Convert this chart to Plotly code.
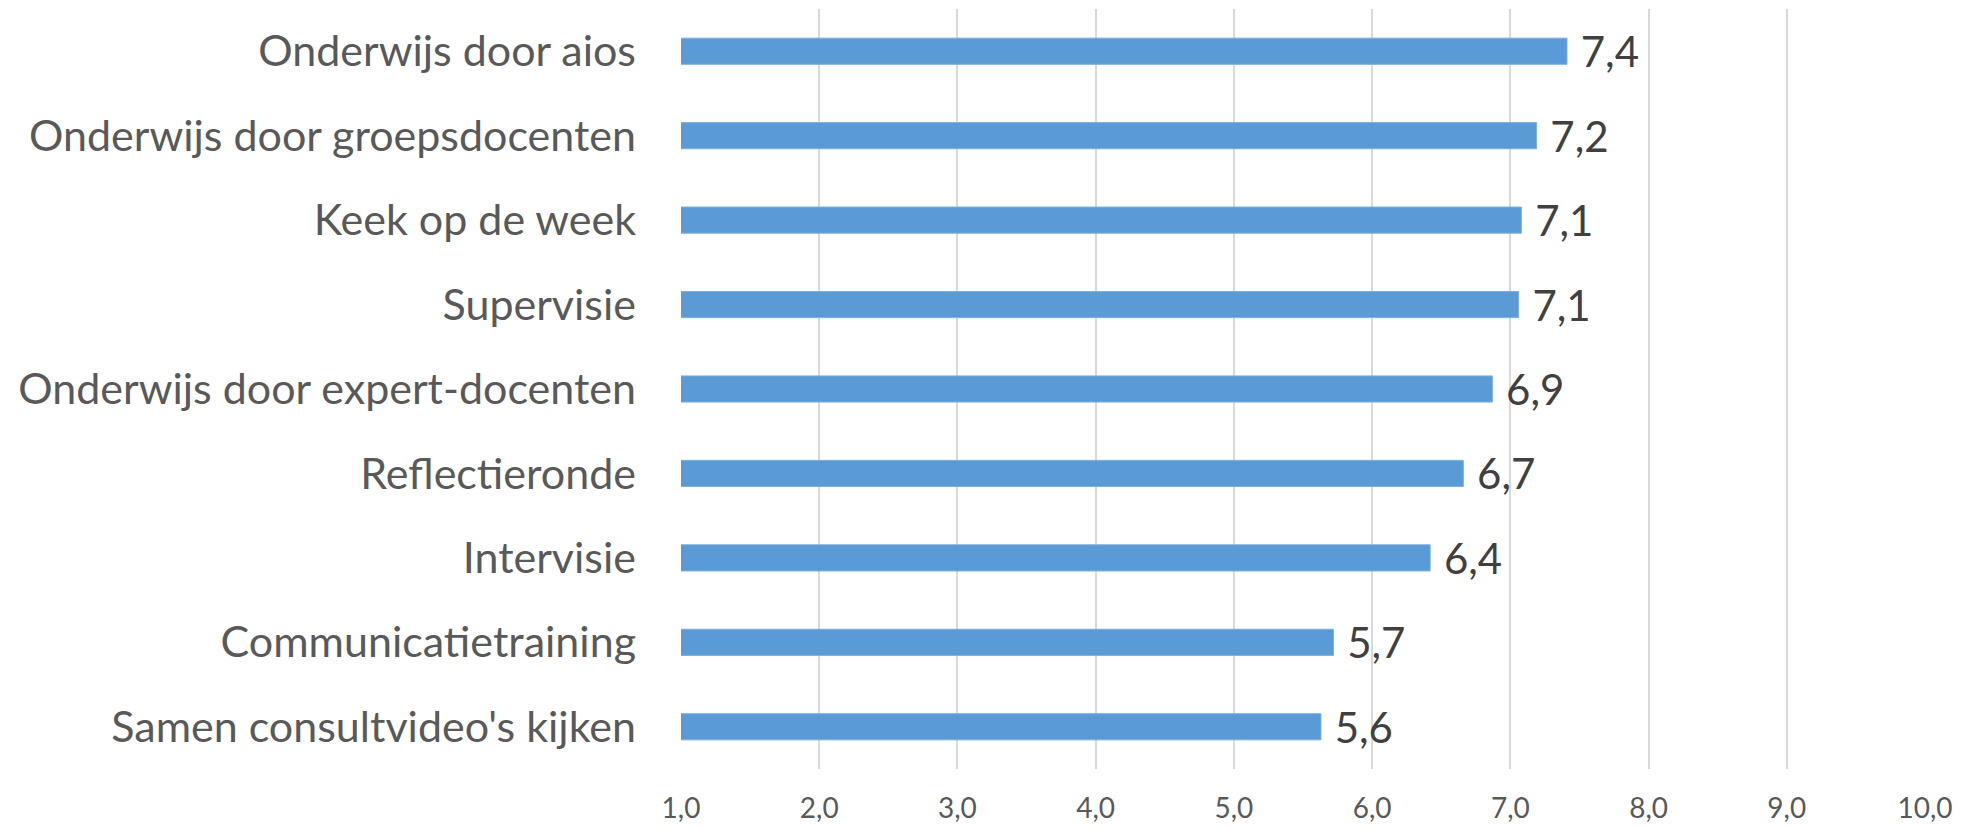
import plotly.graph_objects as go

categories = [
    "Onderwijs door aios",
    "Onderwijs door groepsdocenten",
    "Keek op de week",
    "Supervisie",
    "Onderwijs door expert-docenten",
    "Reflectieronde",
    "Intervisie",
    "Communicatietraining",
    "Samen consultvideo's kijken",
]
scores = [7.41, 7.19, 7.08, 7.06, 6.87, 6.66, 6.42, 5.72, 5.63]
tick_values = [1, 2, 3, 4, 5, 6, 7, 8, 9, 10]
tick_labels = ["1,0", "2,0", "3,0", "4,0", "5,0", "6,0", "7,0", "8,0", "9,0", "10,0"]

FONT = "Lato"

fig = go.Figure(
    go.Bar(
        x=scores,
        y=categories,
        orientation="h",
        base=0,
        width=0.31,
        marker=dict(color="#5B9BD5", line=dict(color="#7EAEDC", width=1)),
        texttemplate=" %{x:.1f}",
        textposition="outside",
        constraintext="none",
        cliponaxis=False,
        textfont=dict(family=FONT, size=42, color="#404040"),
        hoverinfo="skip",
    )
)

fig.update_layout(
    width=1969,
    height=820,
    separators=",.",
    plot_bgcolor="white",
    paper_bgcolor="white",
    margin=dict(l=673, r=52, t=1, b=59),
    showlegend=False,
    font=dict(family=FONT, color="#595959"),
)

fig.update_xaxes(
    range=[1, 10],
    tickvals=tick_values,
    ticktext=tick_labels,
    showgrid=True,
    gridcolor="#D9D9D9",
    gridwidth=2,
    zeroline=False,
    showline=False,
    tickfont=dict(family=FONT, size=28, color="#595959"),
    ticks="",
    ticklabelstandoff=20,
)

fig.update_yaxes(
    autorange="reversed",
    showgrid=False,
    showline=False,
    ticks="",
    tickfont=dict(family=FONT, size=43, color="#595959"),
    ticklabelstandoff=44,
)

fig.write_html("out.html")
